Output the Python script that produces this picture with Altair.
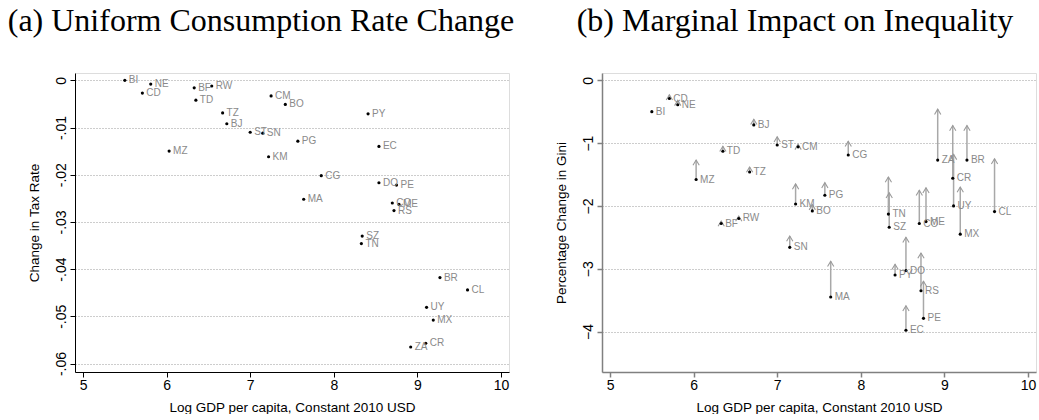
import altair as alt
import pandas as pd

# Country codes (ISO-2) and their values
countries = ["BI", "NE", "CD", "BF", "RW", "TD", "CM", "BO", "TZ", "BJ", "ST",
             "SN", "PY", "PG", "EC", "MZ", "KM", "CG", "DO", "PE", "MA", "CO",
             "ME", "RS", "SZ", "TN", "BR", "CL", "UY", "MX", "CR", "ZA"]
log_gdp = [5.50, 5.81, 5.71, 6.33, 6.54, 6.35, 7.25, 7.42, 6.67, 6.72, 7.00,
           7.15, 8.41, 7.57, 8.54, 6.03, 7.22, 7.85, 8.54, 8.75, 7.64, 8.70,
           8.78, 8.72, 8.34, 8.33, 9.27, 9.60, 9.11, 9.19, 9.10, 8.92]
# Panel (a): change in the uniform consumption tax rate
tax_change = [0.0000, -0.0008, -0.0027, -0.0016, -0.0012, -0.0042, -0.0033,
              -0.0051, -0.0069, -0.0092, -0.0110, -0.0112, -0.0071, -0.0129,
              -0.0140, -0.0150, -0.0162, -0.0202, -0.0217, -0.0222, -0.0252,
              -0.0260, -0.0263, -0.0276, -0.0330, -0.0346, -0.0418, -0.0444,
              -0.0481, -0.0508, -0.0557, -0.0565]
# Panel (b): percentage change in Gini, and the value the arrow points to
gini_change = [-0.50, -0.39, -0.29, -2.28, -2.20, -1.13, -1.06, -2.08, -1.46,
               -0.71, -1.03, -2.66, -3.10, -1.83, -3.98, -1.58, -1.97, -1.19,
               -3.03, -3.79, -3.45, -2.28, -2.25, -3.35, -2.34, -2.13, -1.27,
               -2.09, -2.00, -2.45, -1.56, -1.27]
gini_arrow = [-0.50, -0.32, -0.23, -2.24, -2.16, -1.05, -1.02, -1.98, -1.38,
              -0.62, -0.90, -2.48, -2.93, -1.63, -3.59, -1.27, -1.65, -0.97,
              -2.50, -3.20, -2.88, -1.75, -1.71, -2.75, -1.79, -1.54, -0.72,
              -1.25, -1.18, -1.70, -0.72, -0.46]

df = pd.DataFrame({
    "country": countries,
    "log_gdp": log_gdp,
    "tax": tax_change,
    "gini": gini_change,
    "arrow": gini_arrow,
})

SANS = "Liberation Sans"
SERIF = "Liberation Serif"
W, H = 434, 299

x_scale = alt.Scale(domain=[4.904, 10.096], nice=False, zero=False)


def x_axis(dom_color, dom_width):
    return alt.Axis(values=[5, 6, 7, 8, 9, 10], title="Log GDP per capita, Constant 2010 USD",
                    grid=False, labelFont=SANS, labelFontSize=14, labelColor="black",
                    titleFont=SANS, titleFontSize=13.5, titleFontWeight="normal",
                    titleColor="black", titlePadding=8, tickSize=5, labelPadding=1,
                    domainColor=dom_color, tickColor=dom_color,
                    domainWidth=dom_width, tickWidth=dom_width)


def y_axis(values, title, label_expr, dom_color, dom_width):
    return alt.Axis(values=values, title=title, grid=True, gridColor="#9a9a9a",
                    gridDash=[1, 2], gridWidth=1, labelFont=SANS, labelFontSize=14,
                    labelColor="black", labelAngle=270, labelAlign="center",
                    labelBaseline="bottom", labelPadding=2, tickSize=5,
                    labelExpr=label_expr,
                    titleFont=SANS, titleFontSize=13.5, titleFontWeight="normal",
                    titleColor="black", titlePadding=13,
                    domainColor=dom_color, tickColor=dom_color,
                    domainWidth=dom_width, tickWidth=dom_width)


def panel_title(text, dx):
    return alt.TitleParams(text=text, font=SERIF, fontSize=32, fontWeight="normal",
                           color="black", anchor="middle", frame="bounds",
                           offset=35, dx=dx)


# ---- (a) Uniform consumption rate change ----
tax_scale = alt.Scale(domain=[-0.0618, 0.00155], nice=False, zero=False)
tax_expr = "replace(replace(format(datum.value, '.2~f'), '\u2212', '-'), '0.', '.')"
base_a = alt.Chart(df).encode(
    x=alt.X("log_gdp:Q", scale=x_scale, axis=x_axis("black", 1)),
    y=alt.Y("tax:Q", scale=tax_scale,
            axis=y_axis([0, -0.01, -0.02, -0.03, -0.04, -0.05, -0.06],
                        "Change in Tax Rate", tax_expr, "black", 1)),
)
dots_a = base_a.mark_circle(size=10, color="black", opacity=1)
text_a = base_a.mark_text(align="left", baseline="middle", dx=4, font=SANS,
                          fontSize=10, color="#8a8a8a").encode(text="country:N")
panel_a = alt.layer(dots_a, text_a).properties(
    width=W, height=H, title=panel_title("(a) Uniform Consumption Rate Change", -7))

# ---- (b) Marginal impact on inequality ----
gini_scale = alt.Scale(domain=[-4.644, 0.116], nice=False, zero=False)
gini_y = alt.Y("gini:Q", scale=gini_scale,
               axis=y_axis([0, -1, -2, -3, -4], "Percentage Change in Gini",
                           "format(datum.value, 'd')", "#808080", 1.5))
x_b = alt.X("log_gdp:Q", scale=x_scale, axis=x_axis("#808080", 1.5))
base_b = alt.Chart(df).encode(x=x_b)
with_arrow = base_b.transform_filter("datum.arrow > datum.gini + 0.001")
shafts = with_arrow.mark_rule(color="#a8a8a8", strokeWidth=1.5).encode(
    y=gini_y, y2="arrow:Q")
heads = with_arrow.mark_point(shape="M-0.6,1L0,0L0.6,1", size=110, filled=False,
                              color="#9a9a9a", strokeWidth=1.1, opacity=1).encode(
    y=alt.Y("arrow:Q", scale=gini_scale))
dots_b = base_b.mark_circle(size=10, color="black", opacity=1).encode(y=gini_y)
text_b = base_b.mark_text(align="left", baseline="middle", dx=4, font=SANS,
                          fontSize=10, color="#8a8a8a").encode(y=gini_y, text="country:N")
panel_b = alt.layer(shafts, heads, dots_b, text_b).properties(
    width=W, height=H, title=panel_title("(b) Marginal Impact on Inequality", 0))

chart = alt.hconcat(panel_a, panel_b, spacing=38).properties(
    padding={"left": 7, "top": 4, "right": 0, "bottom": 0}
).configure_view(stroke=None).configure(background="white")

chart.save("out.html", embed_options={"renderer": "svg", "actions": False})
